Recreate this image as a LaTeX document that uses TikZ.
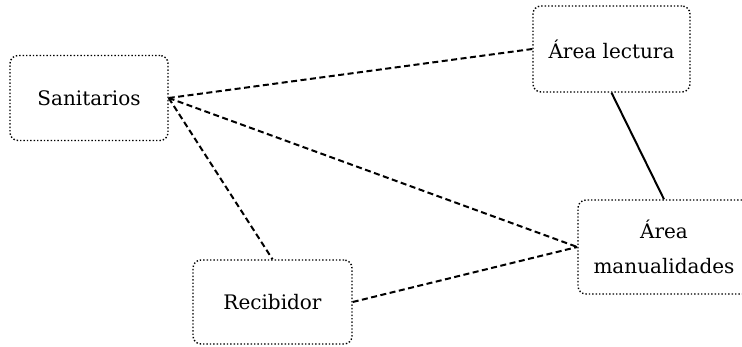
\documentclass[tikz,border=0pt]{standalone}
\usepackage{fontspec}
\setmainfont{DejaVu Serif}
\usetikzlibrary{arrows.meta,positioning}

\begin{document}
\begin{tikzpicture}[x=1pt,y=1pt,font=\fontsize{20}{35}\selectfont,
  room/.style={draw,dotted,line width=1.4pt,rounded corners=8pt,
               align=center,inner sep=0pt},
  link/.style={dashed,line width=2pt,dash pattern=on 6pt off 3.5pt},
  wall/.style={line width=2pt}]
\useasboundingbox (0,0) rectangle (742,346);
\node[room,minimum width=158,minimum height=85] (san) at (89,248) {Sanitarios};
\node[room,minimum width=157,minimum height=86] (lec) at (611.5,297) {Área lectura};
\node[room,minimum width=172,minimum height=94] (man) at (664,99) {Área\\manualidades};
\node[room,minimum width=159,minimum height=84] (rec) at (272.5,44) {Recibidor};

\draw[link] (san.east)--(lec.west);
\draw[link] (san.east)--(man.west);
\draw[link] (san.east)--(rec.north);
\draw[link] (rec.east)--(man.west);
\draw[wall] (lec.south)--(man.north);
\end{tikzpicture}
\end{document}
